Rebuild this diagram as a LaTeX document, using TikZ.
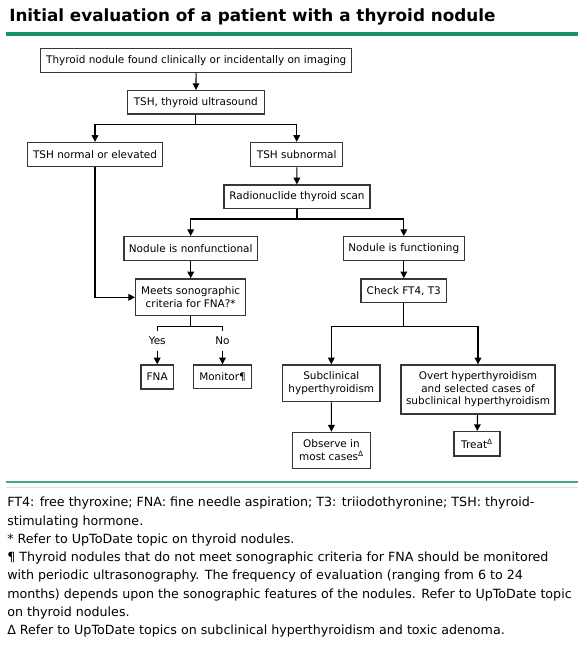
\documentclass[tikz,border=0pt]{standalone}
\usepackage{fontspec}
\setmainfont{DejaVu Sans}
\usetikzlibrary{arrows.meta}
\definecolor{utdgreen}{RGB}{24,145,108}
\definecolor{utdgreen2}{RGB}{70,165,135}
\definecolor{boxc}{RGB}{55,55,55}
\def\pxu{0.75pt}
\begin{document}
\begin{tikzpicture}[x=0.75pt,y=-0.75pt,
  box/.style={draw=boxc, line width=1pt, inner sep=0pt, align=center,
    font=\fontsize{7.85}{9.4}\selectfont, text=black},
  lbl/.style={inner sep=0pt, font=\fontsize{7.85}{9.4}\selectfont, text=black},
  arr/.style={-{Triangle[length=5pt,width=5pt]}, line width=0.8pt},
  ln/.style={line width=0.8pt},
  note/.style={anchor=base west, inner sep=0pt, font=\fontsize{9.5}{11}\selectfont, text=black}]
\fill[white] (0,0) rectangle (586,645);
\useasboundingbox (0,0) rectangle (586,645);
% title and rules
\node[anchor=base west, inner sep=0pt, font=\bfseries\fontsize{12.6}{14}\selectfont] (title) at (9,21.7) {Initial evaluation of a patient with a thyroid nodule};
\fill[utdgreen] (6,31.7) rectangle (578,36);
\fill[utdgreen2] (6,480.7) rectangle (578,483);
\fill[black!12] (6,486.5) rectangle (578,487.5);
% boxes
\node[box, minimum width=311*\pxu, minimum height=24*\pxu] (n1) at (196.2,60.3) {Thyroid nodule found clinically or incidentally on imaging};
\node[box, minimum width=137*\pxu, minimum height=23.3*\pxu] (n2) at (195.8,102.3) {TSH, thyroid ultrasound};
\node[box, minimum width=135.4*\pxu, minimum height=24.2*\pxu] (n3) at (95,154.6) {TSH normal or elevated};
\node[box, minimum width=92*\pxu, minimum height=24.2*\pxu] (n4) at (296.7,154.6) {TSH subnormal};
\node[box, minimum width=146*\pxu, minimum height=23.3*\pxu] (n5) at (297,196.7) {Radionuclide thyroid scan};
\node[box, minimum width=133.3*\pxu, minimum height=24*\pxu] (n6) at (190.7,248.7) {Nodule is nonfunctional};
\node[box, minimum width=121*\pxu, minimum height=24*\pxu] (n7) at (403.8,248.7) {Nodule is functioning};
\node[box, minimum width=110*\pxu, minimum height=36.7*\pxu] (n8) at (190.7,297.3) {Meets sonographic\\criteria for FNA?*};
\node[box, minimum width=85.7*\pxu, minimum height=23.7*\pxu] (n9) at (403.8,290.8) {Check FT4, T3};
\node[box, minimum width=32.3*\pxu, minimum height=24*\pxu] (n10) at (157.2,377) {FNA};
\node[box, minimum width=58.4*\pxu, minimum height=23.7*\pxu] (n11) at (222.5,376.8) {Monitor¶};
\node[box, minimum width=97.3*\pxu, minimum height=36.7*\pxu] (n12) at (331.3,383.3) {Subclinical\\hyperthyroidism};
\node[box, minimum width=154*\pxu, minimum height=49*\pxu] (n13) at (478,389.5) {Overt hyperthyroidism\\and selected cases of\\subclinical hyperthyroidism};
\node[box, minimum width=78.4*\pxu, minimum height=36*\pxu] (n14) at (331.5,450.3) {Observe in\\most cases\textsuperscript{Δ}};
\node[box, minimum width=46*\pxu, minimum height=24.3*\pxu] (n15) at (477,443.8) {Treat\textsuperscript{Δ}};
% yes / no labels
\node[lbl, minimum height=20*\pxu] (yes) at (157.2,341) {Yes};
\node[lbl, minimum height=20*\pxu] (no) at (222.5,341) {No};
% connectors
\draw[arr] (n1) -- (n2);
\draw[arr] (n2.south) -- ++(0,10.3) -| (n3.north);
\draw[arr] (n2.south) -- ++(0,10.3) -| (n4.north);
\draw[arr] (n4) -- (n5);
\draw[arr] (n5.south) -- ++(0,10) -| (n6.north);
\draw[arr] (n5.south) -- ++(0,10) -| (n7.north);
\draw[arr] (n6) -- (n8);
\draw[arr] (n7) -- (n9);
\draw[arr] (n3.south) |- (n8.west);
\draw[ln] (n8.south) -- ++(0,10) -| (yes.north);
\draw[ln] (n8.south) -- ++(0,10) -| (no.north);
\draw[arr] (yes.south) -- (n10.north);
\draw[arr] (no.south) -- (n11.north);
\draw[arr] (n9.south) -- ++(0,23) -| (n12.north);
\draw[arr] (n9.south) -- ++(0,23) -| (n13.north);
\draw[arr] (n12) -- (n14);
\draw[arr] (n13) -- (n15);
% footnotes
\node[note] (f1) at (7,506.7) {FT4: free thyroxine; FNA: fine needle aspiration; T3: triiodothyronine; TSH: thyroid-};
\node[note] (f2) at (7,525) {stimulating hormone.};
\node[note] (f3) at (7,543.3) {* Refer to UpToDate topic on thyroid nodules.};
\node[note] (f4) at (7,561.6) {¶ Thyroid nodules that do not meet sonographic criteria for FNA should be monitored};
\node[note] (f5) at (7,579.9) {with periodic ultrasonography. The frequency of evaluation (ranging from 6 to 24};
\node[note] (f6) at (7,598.2) {months) depends upon the sonographic features of the nodules. Refer to UpToDate topic};
\node[note] (f7) at (7,616.5) {on thyroid nodules.};
\node[note] (f8) at (7,634.8) {Δ Refer to UpToDate topics on subclinical hyperthyroidism and toxic adenoma.};
\end{tikzpicture}
\end{document}
